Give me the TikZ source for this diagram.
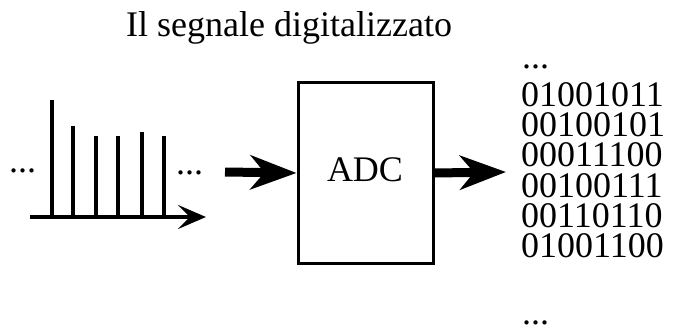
\documentclass[tikz,border=0pt]{standalone}
\usepackage{fontspec}
\setmainfont{Liberation Serif}
\usetikzlibrary{arrows.meta}
\begin{document}
\begin{tikzpicture}[x=1pt,y=-1pt,
  txt/.style={inner sep=0pt,font=\fontsize{36}{36}\selectfont},
  stem/.style={line width=3.3pt},
  axis/.style={line width=4pt,-{Stealth[length=28pt,width=24pt,inset=12pt]}},
  bigarrow/.style={line width=9pt,-{Stealth[length=46pt,width=34pt,inset=14pt]}},
  box/.style={draw,line width=3pt,inner sep=0pt}]
\useasboundingbox (0,0) rectangle (674,331);
% title
\node[txt,anchor=base west] (title) at (126,37) {Il segnale digitalizzato};
% signal
\coordinate (ax0) at (30,217);
\coordinate (ax1) at (206,217);
\draw[axis] (ax0) -- (ax1);
\foreach \x/\t [count=\i] in {52/100,73/126,96/136,118/136,142/132,164/136}{
  \coordinate (s\i b) at (\x,217);
  \coordinate (s\i t) at (\x,\t);
  \draw[stem] (s\i b) -- (s\i t);
}
\node[txt,anchor=base west] (dl) at (9,172) {...};
\node[txt,anchor=base west] (dr) at (176,175) {...};
% ADC
\node[box,minimum width=135pt,minimum height=180pt] (adc) at (365.5,173) {};
\node[txt,anchor=base] (adct) at (365,182) {ADC};
\coordinate (in) at (225,172);
\draw[bigarrow] (in) -- (adc.west);
% output
\node[txt,anchor=base west] (d0) at (522,69) {...};
\node[txt,anchor=base west] (r1) at (521,107) {01001011};
\node[txt,anchor=base west] (r2) at (521,137) {00100101};
\node[txt,anchor=base west] (r3) at (521,167) {00011100};
\node[txt,anchor=base west] (r4) at (521,197) {00100111};
\node[txt,anchor=base west] (r5) at (521,227) {00110110};
\node[txt,anchor=base west] (r6) at (521,257) {01001100};
\node[txt,anchor=base west,text depth=0pt] (d7) at (522,324) {...};
\coordinate (outtip) at (506,172);
\draw[bigarrow] (adc.east) -- (outtip);
\end{tikzpicture}
\end{document}
